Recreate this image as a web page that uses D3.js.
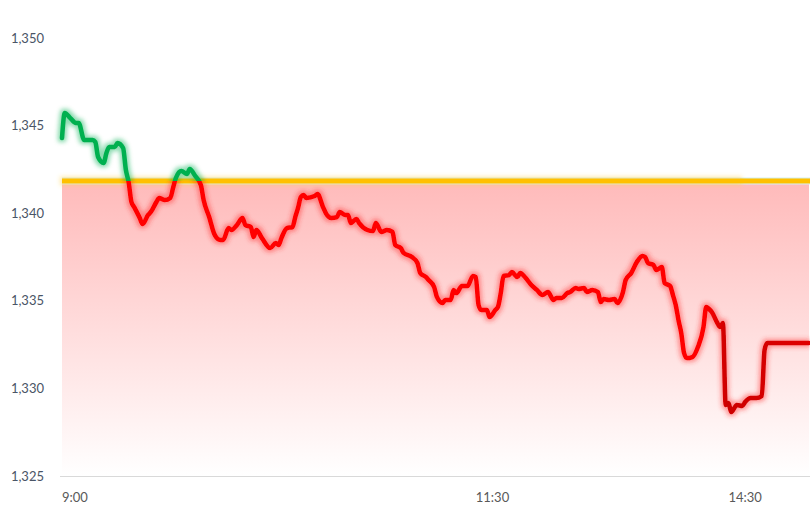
<!DOCTYPE html>
<html>
<head>
<meta charset="utf-8">
<title>chart</title>
<script src="https://d3js.org/d3.v7.min.js"></script>
<style>
  body { margin: 0; background: #fff; }
  svg { display: block; font-family: Lato, "Open Sans", sans-serif; }
</style>
</head>
<body>
<div id="chart"></div>
<script>
const width = 810, height = 509;

// session minute (9:00 = 0, lunch break removed) and price
const mins = [0,1,3,5,6,8,11,12,13,15,16,17,19,20,22,23,24,25,26,28,29,31,32,34,35,37,39,40,41,43,45,46,48,50,51,53,55,57,58,60,61,63,65,66,68,69,70,72,75,77,78,79,81,83,84,85,86,87,88,91,92,94,95,97,99,100,102,103,104,106,107,110,112,113,115,117,119,120,122,123,126,128,129,131,132,134,135,137,138,140,141,142,144,146,148,149,150,151,153,154,156,157,158,159,161,162,164,165,167,169,171,173,175,177,178,180,182,183,185,186,188,189,191,193,194,195,197,199,200,202,203,205,207,209,210,211,213,214,216,217,219,220,221,222,223,224,225,227,229,231,232,233,234,236,237,238,239,240,241,243,245,246,248,250,252,253,254,269];
const prices = [1344.29,1345.72,1345.43,1345.15,1345.15,1344.18,1344.18,1344.06,1343.21,1342.87,1343.44,1343.78,1343.78,1344.01,1343.72,1342.47,1341.78,1340.64,1340.35,1339.73,1339.38,1339.90,1340.07,1340.64,1340.87,1340.75,1340.87,1341.44,1342.01,1342.41,1342.24,1342.52,1342.12,1341.61,1340.75,1339.78,1338.76,1338.47,1338.47,1339.15,1339.04,1339.33,1339.73,1339.33,1339.21,1338.64,1339.04,1338.58,1338.01,1338.30,1338.18,1338.58,1339.15,1339.21,1339.78,1340.30,1340.92,1341.04,1340.87,1340.98,1341.10,1340.35,1340.01,1339.73,1339.78,1340.07,1339.90,1339.90,1339.44,1339.67,1339.44,1339.04,1338.98,1339.44,1338.93,1339.04,1338.93,1338.18,1338.01,1337.73,1337.50,1337.16,1336.59,1336.36,1336.19,1335.79,1335.22,1334.87,1335.05,1335.05,1335.62,1335.44,1335.84,1335.84,1336.42,1336.36,1334.76,1334.47,1334.47,1334.07,1334.47,1334.65,1335.44,1336.42,1336.47,1336.64,1336.36,1336.59,1336.30,1335.90,1335.62,1335.33,1335.50,1335.05,1335.16,1335.16,1335.44,1335.50,1335.73,1335.67,1335.73,1335.50,1335.62,1335.50,1334.93,1335.10,1335.05,1335.10,1334.87,1335.50,1336.19,1336.59,1337.21,1337.56,1337.50,1337.16,1337.04,1336.76,1336.93,1336.02,1335.84,1335.33,1334.76,1333.90,1333.16,1332.02,1331.73,1331.79,1332.36,1333.50,1334.65,1334.53,1334.36,1333.73,1333.50,1333.73,1329.05,1329.17,1328.65,1329.05,1329.00,1329.22,1329.45,1329.45,1329.57,1332.19,1332.59,1332.59];

const prevClose = 1341.84;
const yTicks = [1325, 1330, 1335, 1340, 1345, 1350];
const xTickMins = [0, 149, 240];
const xTickLabels = ["9:00", "11:30", "14:30"];

const data = mins.map((m, i) => ({ m: m, v: prices[i] }));

const x = d3.scaleLinear().domain([0, 269]).range([62, 809]);
const y = d3.scaleLinear().domain([1325, 1350]).range([476, 38]);

const svg = d3.select("#chart").append("svg")
  .attr("width", width)
  .attr("height", height);

const defs = svg.append("defs");

// fill gradient
const fillGrad = defs.append("linearGradient")
  .attr("id", "fillGrad")
  .attr("x1", 0).attr("y1", 0).attr("x2", 0).attr("y2", 1);
fillGrad.append("stop").attr("offset", "0%").attr("stop-color", "#ffbaba");
fillGrad.append("stop").attr("offset", "100%").attr("stop-color", "#ffffff");

// red line gets darker at the end
const redGrad = defs.append("linearGradient")
  .attr("id", "redGrad")
  .attr("gradientUnits", "userSpaceOnUse")
  .attr("x1", x(0)).attr("x2", x(269)).attr("y1", 0).attr("y2", 0);
redGrad.append("stop").attr("offset", "86%").attr("stop-color", "#ff0000");
redGrad.append("stop").attr("offset", "89%").attr("stop-color", "#cc0000");
redGrad.append("stop").attr("offset", "100%").attr("stop-color", "#e00000");

// glow
function glow(id, color) {
  const f = defs.append("filter").attr("id", id)
    .attr("filterUnits", "userSpaceOnUse")
    .attr("x", 0).attr("y", 0).attr("width", width).attr("height", height);
  f.append("feMorphology").attr("in", "SourceAlpha").attr("operator", "dilate").attr("radius", 1.5).attr("result", "d");
  f.append("feGaussianBlur").attr("in", "d").attr("stdDeviation", 2.2).attr("result", "b");
  f.append("feFlood").attr("flood-color", color).attr("flood-opacity", 0.45);
  f.append("feComposite").attr("in2", "b").attr("operator", "in").attr("result", "g");
  const mg = f.append("feMerge");
  mg.append("feMergeNode").attr("in", "g");
  mg.append("feMergeNode").attr("in", "SourceGraphic");
}
glow("glowGreen", "#00b050");
glow("glowRed", "#ff3030");
glow("glowYellow", "#ffd24a");

defs.append("clipPath").attr("id", "above")
  .append("rect").attr("x", 0).attr("y", 0).attr("width", width).attr("height", y(prevClose));
defs.append("clipPath").attr("id", "below")
  .append("rect").attr("x", 0).attr("y", y(prevClose)).attr("width", width).attr("height", height - y(prevClose));

// shaded area under previous close
svg.append("rect")
  .attr("x", x(0))
  .attr("y", y(prevClose))
  .attr("width", x(269) - x(0))
  .attr("height", y(1325) - y(prevClose))
  .attr("fill", "url(#fillGrad)");

// x axis line
svg.append("line")
  .attr("x1", 60).attr("x2", width)
  .attr("y1", y(1325) + 0.5).attr("y2", y(1325) + 0.5)
  .attr("stroke", "#d9d9d9");

// y tick labels
svg.append("g").selectAll("text")
  .data(yTicks)
  .enter().append("text")
  .attr("x", 44)
  .attr("y", d => y(d))
  .attr("dy", "0.35em")
  .attr("text-anchor", "end")
  .attr("fill", "#4a5566")
  .style("font-size", "13px")
  .text(d3.format(","));

// x tick labels
svg.append("g").selectAll("text")
  .data(xTickMins)
  .enter().append("text")
  .attr("x", d => x(d))
  .attr("y", 497)
  .attr("dy", "0.35em")
  .attr("fill", "#595959")
  .style("font-size", "13px")
  .text((d, i) => xTickLabels[i]);

// previous close line
const yc = y(prevClose);
svg.append("rect")
  .attr("x", x(0)).attr("y", yc - 3.5)
  .attr("width", width - x(0)).attr("height", 7)
  .attr("fill", "#d4f1f2");
svg.append("rect")
  .attr("x", x(0)).attr("y", yc - 2.5)
  .attr("width", 740 - x(0)).attr("height", 5)
  .attr("fill", "#ffc000")
  .attr("filter", "url(#glowYellow)");
svg.append("rect")
  .attr("x", 740).attr("y", yc - 2.5)
  .attr("width", width - 740).attr("height", 5)
  .attr("fill", "#ffc000");

const line = d3.line()
  .x(d => x(d.m))
  .y(d => y(d.v))
  .curve(d3.curveMonotoneX);

svg.append("g").attr("clip-path", "url(#above)")
  .append("path")
  .datum(data)
  .attr("d", line)
  .attr("fill", "none")
  .attr("stroke", "#00b050")
  .attr("stroke-width", 4.5)
  .attr("stroke-linejoin", "round")
  .attr("stroke-linecap", "round")
  .attr("filter", "url(#glowGreen)");

svg.append("g").attr("clip-path", "url(#below)")
  .append("path")
  .datum(data)
  .attr("d", line)
  .attr("fill", "none")
  .attr("stroke", "url(#redGrad)")
  .attr("stroke-width", 4.5)
  .attr("stroke-linejoin", "round")
  .attr("stroke-linecap", "round")
  .attr("filter", "url(#glowRed)");
</script>
</body>
</html>
